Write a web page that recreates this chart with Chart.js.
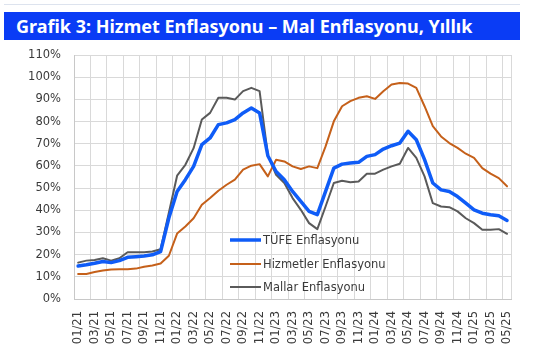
<!DOCTYPE html>
<html lang="tr">
<head>
<meta charset="utf-8">
<title>Grafik 3</title>
<script src="https://cdn.jsdelivr.net/npm/chart.js@4/dist/chart.umd.min.js"></script>
<style>
    html, body { margin: 0; padding: 0; background: #fff; }
    #wrap { position: relative; width: 533px; height: 350px; overflow: hidden; }
    #topLine { position: absolute; left: 4px; top: 4px; width: 516px; height: 1px; background: #dde3ee; }
    #banner {
        position: absolute; left: 4px; top: 12px; width: 516px; height: 28px;
        background: #0a3cf5; color: #fff;
        font: bold 18px "Noto Sans", sans-serif; line-height: 28px;
        padding-left: 12px; box-sizing: border-box; white-space: nowrap;
    }
    #inflationChart { position: absolute; left: 0; top: 0; }
</style>
</head>
<body>
<div id="wrap">
    <div id="topLine"></div>
    <canvas id="inflationChart" width="533" height="350"></canvas>
    <div id="banner">Grafik 3: Hizmet Enflasyonu – Mal Enflasyonu, Yıllık</div>
</div>
<script>
// Months, 01/21 - 05/25
const months = [
    '01/21', '02/21', '03/21', '04/21', '05/21', '06/21', '07/21', '08/21', '09/21', '10/21', '11/21', '12/21',
    '01/22', '02/22', '03/22', '04/22', '05/22', '06/22', '07/22', '08/22', '09/22', '10/22', '11/22', '12/22',
    '01/23', '02/23', '03/23', '04/23', '05/23', '06/23', '07/23', '08/23', '09/23', '10/23', '11/23', '12/23',
    '01/24', '02/24', '03/24', '04/24', '05/24', '06/24', '07/24', '08/24', '09/24', '10/24', '11/24', '12/24',
    '01/25', '02/25', '03/25', '04/25', '05/25'
];

// Annual inflation, %
const tufe = [
    14.9, 15.4, 16.1, 16.9, 16.4, 17.3, 18.8, 19.1, 19.4, 19.9, 21.4, 36.5,
    48.5, 53.8, 59.8, 69.6, 72.6, 78.6, 79.4, 80.9, 83.9, 86.1, 83.9, 64.6,
    57.5, 53.8, 48.5, 44.0, 39.5, 38.0, 48.5, 59.0, 60.8, 61.3, 61.6, 64.3,
    65.1, 67.6, 69.1, 70.3, 75.6, 71.8, 62.8, 52.3, 49.2, 48.5, 46.2, 43.2,
    40.2, 38.7, 38.0, 37.5, 35.4
];
const hizmetler = [
    11.3, 11.3, 12.2, 12.8, 13.3, 13.4, 13.4, 13.7, 14.5, 15.1, 16.0, 19.5,
    29.5, 32.7, 36.4, 42.5, 45.5, 48.8, 51.5, 53.8, 58.3, 60.1, 60.8, 55.3,
    62.8, 62.0, 59.8, 58.6, 59.8, 59.0, 68.8, 80.1, 86.9, 89.2, 90.7, 91.4,
    90.2, 93.7, 96.7, 97.4, 97.1, 95.2, 86.9, 77.9, 73.3, 70.3, 68.1, 65.5,
    63.6, 59.0, 56.5, 54.5, 50.8
];
const mallar = [
    16.4, 17.3, 17.6, 18.4, 17.3, 18.4, 21.1, 21.1, 21.1, 21.4, 22.4, 38.9,
    55.6, 60.5, 68.0, 80.9, 83.9, 90.7, 90.7, 89.9, 93.7, 95.2, 93.7, 65.0,
    56.0, 52.3, 45.5, 40.2, 34.2, 31.5, 41.7, 52.3, 53.3, 52.6, 53.0, 56.5,
    56.5, 58.3, 59.8, 61.0, 68.1, 63.6, 55.3, 43.2, 41.7, 41.4, 39.5, 36.4,
    34.2, 31.2, 31.2, 31.5, 29.4
];

const seriesNames = ['TÜFE Enflasyonu', 'Hizmetler Enflasyonu', 'Mallar Enflasyonu'];
const yTicks = [0, 10, 20, 30, 40, 50, 60, 70, 80, 90, 100, 110];

const gridColor = '#d9d9d9';
const textColor = '#3a3a3a';
const tickFont = { family: 'DejaVu Sans', size: 11.5 };

// Legend drawn inside the plot, below the lines
const innerLegend = {
    id: 'innerLegend',
    afterDatasetsDraw(chart) {
        const ctx = chart.ctx;
        const x0 = 230, x1 = 261;
        const rows = [240, 264, 287];
        ctx.save();
        ctx.font = '11.5px "DejaVu Sans"';
        ctx.textBaseline = 'middle';
        ctx.fillStyle = textColor;
        chart.data.datasets.forEach((ds, i) => {
            ctx.strokeStyle = ds.borderColor;
            ctx.lineWidth = ds.borderWidth;
            ctx.beginPath();
            ctx.moveTo(x0, rows[i]);
            ctx.lineTo(x1, rows[i]);
            ctx.stroke();
            ctx.fillText(ds.label, x1 + 2, rows[i] + 1);
        });
        ctx.restore();
    }
};

const ctx = document.getElementById('inflationChart').getContext('2d');
new Chart(ctx, {
    type: 'line',
    data: {
        labels: months,
        datasets: [
            { label: seriesNames[0], data: tufe, borderColor: '#0f5cf7', borderWidth: 3.5 },
            { label: seriesNames[1], data: hizmetler, borderColor: '#c5601a', borderWidth: 2 },
            { label: seriesNames[2], data: mallar, borderColor: '#5a5a5a', borderWidth: 2 }
        ]
    },
    options: {
        responsive: false,
        animation: false,
        devicePixelRatio: 1,
        layout: { padding: { top: 55, right: 17, left: 0, bottom: 0 } },
        elements: {
            point: { radius: 0 },
            line: { tension: 0, borderJoinStyle: 'round', borderCapStyle: 'round' }
        },
        plugins: {
            legend: { display: false },
            tooltip: { enabled: false }
        },
        scales: {
            x: {
                offset: true,
                grid: {
                    offset: true,
                    drawTicks: false,
                    color: c => (c.index === undefined || c.index % 2 === 0) ? gridColor : 'rgba(0,0,0,0)'
                },
                border: { color: '#c8c8c8' },
                ticks: {
                    autoSkip: false,
                    minRotation: 90,
                    maxRotation: 90,
                    padding: 12,
                    color: textColor,
                    font: tickFont,
                    callback: (v, i) => i % 2 === 0 ? months[i] : ''
                },
                afterFit: scale => { scale.height = 51; }
            },
            y: {
                min: 0,
                max: 110,
                afterBuildTicks: scale => { scale.ticks = yTicks.map(v => ({ value: v })); },
                grid: { color: gridColor, drawTicks: false },
                border: { color: '#c8c8c8' },
                ticks: {
                    padding: 13,
                    color: textColor,
                    font: tickFont,
                    callback: v => v + '%'
                },
                afterFit: scale => { scale.width = 74; }
            }
        }
    },
    plugins: [innerLegend]
});
</script>
</body>
</html>
